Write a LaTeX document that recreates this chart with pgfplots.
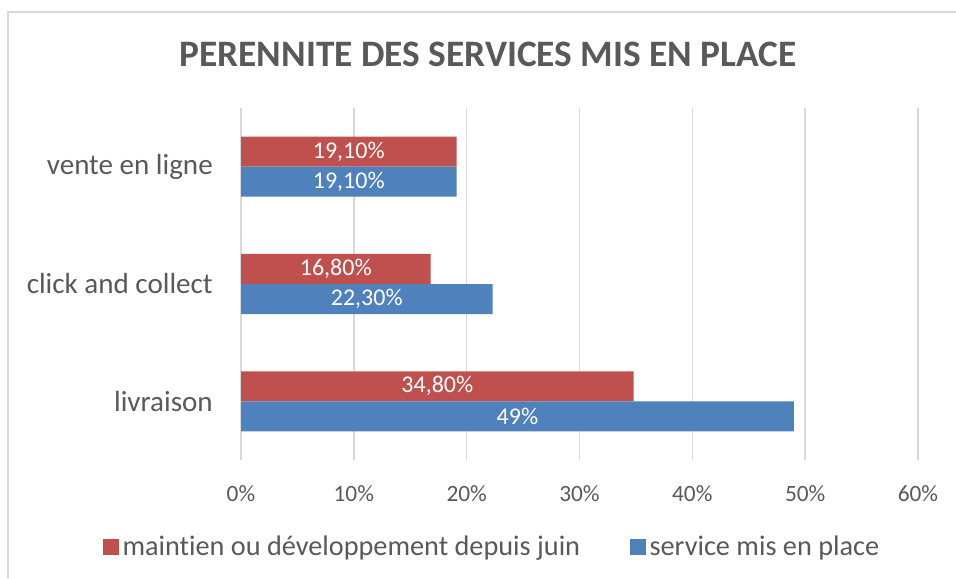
\documentclass[border=0pt]{standalone}
\usepackage{pgfplots}
\pgfplotsset{compat=1.18}
\usepackage{pgfplotstable}
\usepackage{fontspec}
\setmainfont{Carlito}[Ligatures=NoCommon]
\definecolor{cred}{HTML}{C0504D}
\definecolor{cblue}{HTML}{4F81BD}
\definecolor{ctext}{HTML}{595959}
\definecolor{cgrid}{HTML}{D9D9D9}
\pgfplotstableread{
y red blue redlab bluelab
0 0.348 0.49 34,80\% 49\%
1 0.168 0.223 16,80\% 22,30\%
2 0.191 0.191 19,10\% 19,10\%
}\datatable
\begin{document}
\begin{tikzpicture}
\path[use as bounding box] (0pt,0pt) rectangle (717pt,433.5pt);
\draw[cgrid,line width=1.1pt] (6pt,0pt) -- (6pt,424.5pt) -- (717pt,424.5pt);
\node[font=\bfseries\fontsize{28}{30}\selectfont,text=ctext] at (366pt,393pt) {PERENNITE DES SERVICES MIS EN PLACE};
\begin{axis}[
  at={(180.75pt,88.5pt)}, anchor=south west,
  scale only axis, width=507.75pt, height=264pt,
  xmin=0, xmax=0.6, ymin=-0.5, ymax=2.5,
  xtick={0,0.1,0.2,0.3,0.4,0.5,0.6},
  xticklabels={0\%,10\%,20\%,30\%,40\%,50\%,60\%},
  ytick={0,1,2},
  yticklabels={livraison,click and collect,vente en ligne},
  axis line style={draw=none},
  major tick length=0pt,
  xmajorgrids, grid style={cgrid,line width=1.1pt},
  x tick label style={font=\fontsize{17.5}{20}\selectfont,text=ctext,anchor=north,inner sep=0pt,yshift=-19pt},
  y tick label style={font=\fontsize{21.8}{24}\selectfont,text=ctext,anchor=east,inner sep=0pt,xshift=-21pt},
  xbar, bar width=22.5pt,
  nodes near coords,
  point meta=explicit symbolic,
  every node near coord/.append style={font=\fontsize{18}{20}\selectfont,text=white,anchor=center},
  legend columns=2,
  legend style={at={(0.372,-0.247)},anchor=center,draw=none,fill=none,
    font=\fontsize{21.2}{24}\selectfont,text=ctext,
    /tikz/every even column/.append style={column sep=34pt},
    nodes={inner xsep=3pt}},
  legend image code/.code={\fill[#1] (0pt,-6pt) rectangle (12pt,6pt);},
]
\addplot[fill=cred,draw=none,bar shift=11.25pt,
  visualization depends on={\thisrow{red} \as \val},
  every node near coord/.append style={xshift={-\val*423.125pt}}]
  table[x=red,y=y,meta=redlab] {\datatable};
\addlegendentry{maintien ou développement depuis juin}
\addplot[fill=cblue,draw=none,bar shift=-11.25pt,
  visualization depends on={\thisrow{blue} \as \val},
  every node near coord/.append style={xshift={-\val*423.125pt}}]
  table[x=blue,y=y,meta=bluelab] {\datatable};
\addlegendentry{service mis en place}
\end{axis}
\end{tikzpicture}
\end{document}
